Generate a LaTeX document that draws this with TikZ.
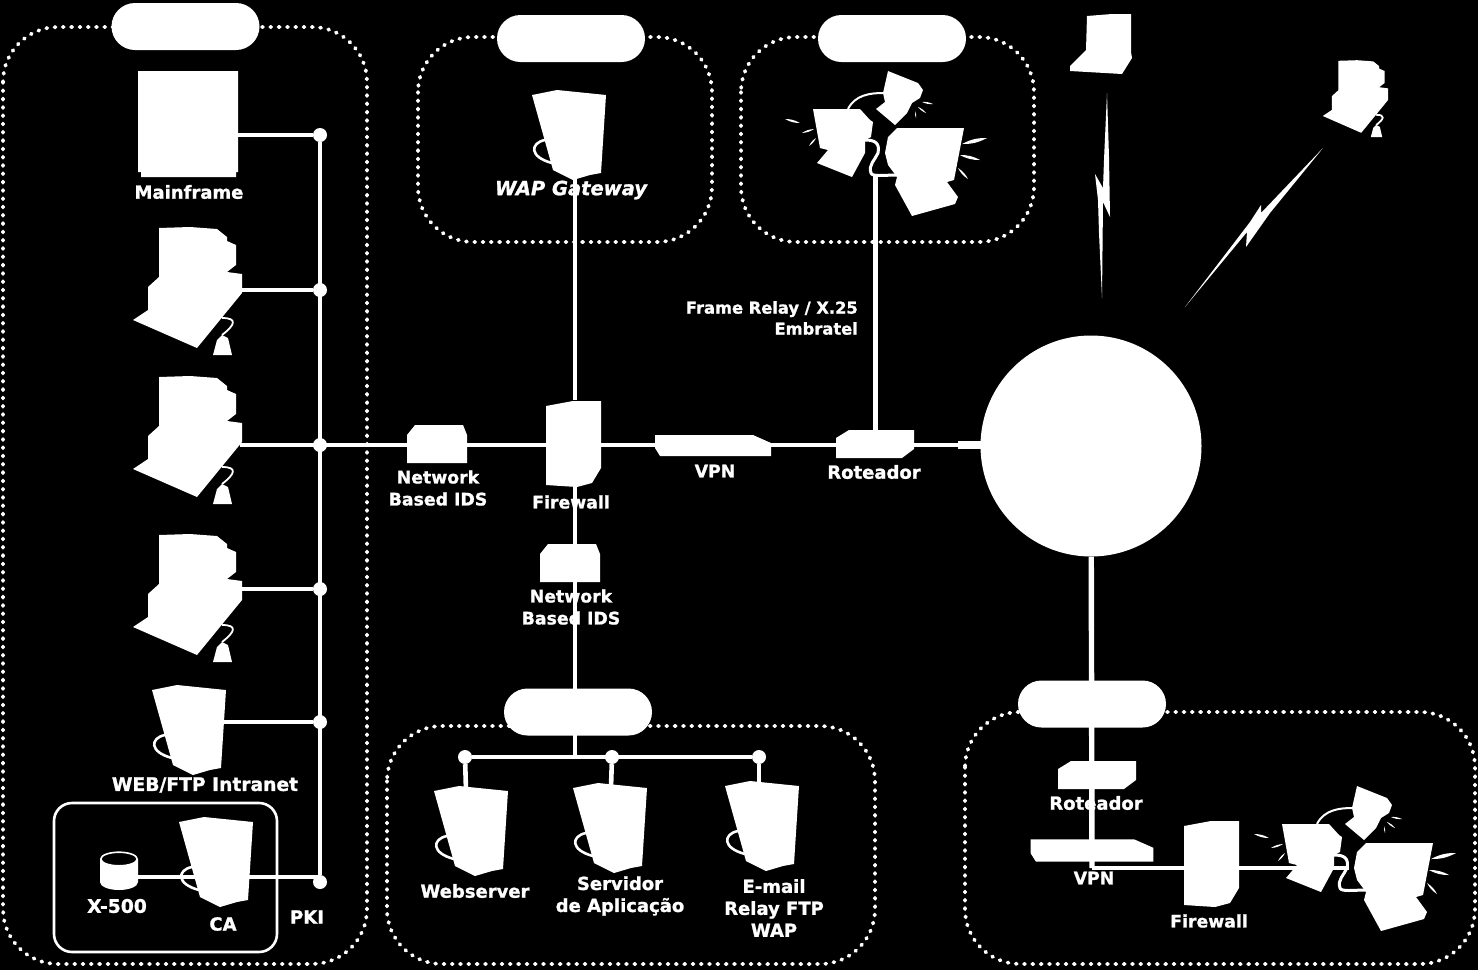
\documentclass[tikz,border=0pt]{standalone}
\usepackage{fontspec}
\setmainfont[BoldFeatures={FakeBold=1.2}, BoldItalicFeatures={FakeBold=1.2}]{DejaVu Sans}
\usepackage{tikz}

\tikzset{
    wire/.style={white, line width=4.6pt},
    bubble/.style={draw=white, line width=3.8pt, line cap=round, dash pattern=on 1pt off 7.3pt, rounded corners=55pt},
    pill/.style={fill=white, rectangle, rounded corners=23.5pt, minimum width=148pt, minimum height=47pt, inner sep=0pt},
    busdot/.style={fill=white, circle, minimum size=14pt, inner sep=0pt},
    lbl/.style={white, align=center, inner sep=0pt, font=\fontsize{18}{22}\selectfont\bfseries},
    lblsmall/.style={lbl, font=\fontsize{17.3}{22}\selectfont\bfseries},
    lblbig/.style={lbl, font=\fontsize{18.7}{22}\selectfont\bfseries},
    % Servers (tower with a cable loop)
    server/.pic={
        \fill[white] (-38,-40) -- (-13,-45) -- (36,-40) -- (31,38) -- (20,40) -- (3,45) -- (-17,35) -- cycle;
        \draw[white, line width=2.6pt] (-25,5) .. controls (-40,8) and (-41,22) .. (-18,28);
    },
    % Desktop with a padlock
    pclock/.pic={
        \fill[white] (-31,-62) -- (0,-63) -- (27,-61) -- (37,-53) -- (37,-49) -- (46,-45) -- (46,-25) -- (37,-18)
            -- (52,-16) -- (52,3) -- (7,58) -- (-57,30) -- (-42,20) -- (-42,-3) -- (-31,-13) -- cycle;
        \fill[white] (23,65) -- (42,65) -- (38,48) -- (32,45) -- (27,50) -- cycle;
        \draw[white, line width=1.8pt] (32,45) .. controls (45,35) and (48,28) .. (32,28);
    },
    idsbox/.pic={
        \fill[white] (-30,-9) -- (-22,-19) -- (26,-19) -- (30,-9) -- (30,19) -- (-30,19) -- cycle;
    },
    firewallbox/.pic={
        \fill[white] (-27,-38) -- (0,-43) -- (28,-43) -- (28,24) -- (19,39) -- (4,43) -- (-27,41) -- cycle;
    },
    vpnbox/.pic={
        \fill[white] (-58,-11) -- (40,-11) -- (58,-3) -- (58,10) -- (-53,10) -- (-58,2) -- cycle;
    },
    routerbox/.pic={
        \fill[white] (-39,-6) -- (-26,-14) -- (39,-14) -- (39,5) -- (27,14) -- (-39,14) -- cycle;
    },
    % Group of three terminals with cables and sparks
    clients/.pic={
        \fill[white] (-67,-31) -- (-20,-31) -- (-10,-20) -- (-7,-18) -- (-9,-3) -- (-15,0) -- (-15,13)
            -- (-28,37) -- (-63,23) -- (-52,10) -- (-60,8) -- cycle;
        \fill[white] (8,-69) -- (38,-57) -- (43,-50) -- (40,-42) -- (32,-37) -- (27,-27) -- (15,-15) -- (-4,-31)
            -- (5,-38) -- (3,-47) -- cycle;
        \fill[white] (17,-12) -- (84,-12) -- (74,40) -- (67,42) -- (78,57) -- (75,64) -- (32,76) -- (15,45)
            -- (17,37) -- (8,25) -- (5,13) -- (8,-3) -- cycle;
        \draw[white, line width=2pt] (-32,-31) .. controls (-25,-45) and (-10,-47) .. (3,-47);
        \draw[white, line width=3pt] (-15,0) .. controls (-5,0) and (0,3) .. (-2,13)
            .. controls (-5,20) and (-12,25) .. (-9,33) .. controls (-8,37) and (5,35) .. (17,35);
        \foreach \ax/\ay/\bx/\by in {-95/-21/-80/-17, -78/-7/-66/-11, -71/6/-64/-2, 42/-38/53/-36, 38/-33/46/-27,
                35/-29/36/-22, 82/4/107/-2, 80/15/100/20, 78/28/88/39} {
            \fill[white] (\ax,\ay) to[bend left=14] (\bx,\by) to[bend left=14] (\ax,\ay);
        }
    },
}

\begin{document}
\begin{tikzpicture}[x=1pt, y=-1pt, line join=round]
    \fill[black, use as bounding box] (0,0) rectangle (1478,970);

    % Dotted areas
    \draw[bubble] (3,27) rectangle (367,964);
    \draw[bubble] (418,37) rectangle (712,242);
    \draw[bubble] (741,37) rectangle (1034,242);
    \draw[bubble] (387,726) rectangle (875,964);
    \draw[bubble] (965,712) rectangle (1475,964);
    \draw[white, line width=2.6pt, rounded corners=18pt] (54,803) rectangle (277,952);

    % Area titles
    \node[pill] (pillIntranet) at (185.5,26.5) {};
    \node[pill] (pillWap) at (571,38.5) {};
    \node[pill] (pillFrame) at (892,38.5) {};
    \node[pill] (pillDmz) at (578,712) {};
    \node[pill] (pillRemote) at (1092,704) {};

    % Internet cloud
    \node[fill=white, circle, minimum size=221pt, inner sep=0pt] (internet) at (1091,446) {};

    % Bus junctions
    \node[busdot] (busMain) at (320,135) {};
    \node[busdot] (busPcA) at (320,290) {};
    \node[busdot] (busPcB) at (320,445) {};
    \node[busdot] (busPcC) at (320,589) {};
    \node[busdot] (busWeb) at (320,722) {};
    \node[busdot] (busPki) at (320,882) {};
    \node[busdot] (busWebserver) at (465,757) {};
    \node[busdot] (busApp) at (612,757) {};
    \node[busdot] (busMail) at (759,757) {};

    % Left column
    \fill[white] (138,71) -- (238,71) -- (238,172) -- (236,172) -- (236,177) -- (141,177) -- (141,172) -- (138,172) -- cycle;
    \pic at (190,290) {pclock};
    \pic at (190,439) {pclock};
    \pic at (190,597) {pclock};
    \pic at (190,730) {server};
    \pic at (217,862) {server};

    % Directory database
    \fill[white] (100,859) -- (138,859) -- (138,882)
        arc[start angle=0, end angle=180, x radius=19, y radius=8] -- cycle;
    \draw[white, line width=1.6pt, fill=black] (119,859) ellipse (18.2 and 6.8);

    % Middle and bottom devices
    \pic at (570,135) {server};
    \pic at (472,831) {server};
    \pic at (611,828) {server};
    \pic at (763,826) {server};
    \pic at (437,444) {idsbox};
    \pic at (570,563) {idsbox};
    \pic at (573,444) {firewallbox};
    \pic at (713,446) {vpnbox};
    \pic at (875,444) {routerbox};
    \pic at (880,140) {clients};

    % Remote site
    \pic at (1097,775) {routerbox};
    \pic[xscale=1.06, yscale=1.05] at (1092,851) {vpnbox};
    \pic at (1211,864) {firewallbox};
    \pic at (1349,855) {clients};

    % Mobile clients
    \fill[white] (1087,16) -- (1112,14) -- (1131,14) -- (1131,52) -- (1132,58) -- (1122,74) -- (1070,71) -- (1070,66) -- (1086,50) -- cycle;
    \pic[scale=0.6] at (1357,98) {pclock};
    \fill[white] (1107,93) -- (1109,157) -- (1110,217) -- (1103,202) -- (1102,298) -- (1099,233) -- (1098,200) -- (1095,174) -- (1103,188) -- (1104,160) -- cycle;
    \fill[white] (1323,148) -- (1270,213) -- (1246,247) -- (1247,232) -- (1185,307) -- (1250,222) -- (1261,205) -- (1261,213) -- cycle;

    % Device ports
    \coordinate (mainframe) at (238,135);
    \coordinate (pcA) at (240,290);
    \coordinate (pcB) at (240,445);
    \coordinate (pcC) at (240,589);
    \coordinate (webftp) at (222,722);
    \coordinate (ldap) at (138,877);
    \coordinate (caRight) at (320,877);
    \coordinate (wapSrv) at (575,170);
    \coordinate (fwTop) at (575,400);
    \coordinate (fwMain) at (575,445);
    \coordinate (dmzTee) at (575,756);
    \coordinate (routerTop) at (875,430);
    \coordinate (clientWire) at (875,175);
    \coordinate (cloudLeft) at (981,445);
    \coordinate (cloudStub) at (958,445);
    \coordinate (remoteTee) at (1092,868);
    \coordinate (remoteEnd) at (1349,868);
    \coordinate (webSrv) at (466,790);
    \coordinate (appSrv) at (611,787);
    \coordinate (mailSrv) at (759,785);

    % Connections
    \draw[wire] (busMain) -- (busPki);
    \draw[wire] (mainframe) -- (busMain);
    \draw[wire] (pcA) -- (busPcA);
    \draw[wire] (pcB) -- (fwMain) -- (cloudLeft);
    \draw[wire, line width=8pt] (cloudStub) -- (cloudLeft);
    \draw[wire] (pcC) -- (busPcC);
    \draw[wire] (webftp) -- (busWeb);
    \draw[wire] (ldap) -- (caRight);
    \draw[wire] (wapSrv) -- (fwTop);
    \draw[wire] (fwMain) -- (dmzTee);
    \draw[wire] (busWebserver) -- (busMail);
    \draw[wire] (busWebserver) -- (webSrv);
    \draw[wire] (busApp) -- (appSrv);
    \draw[wire] (busMail) -- (mailSrv);
    \draw[wire, line width=5pt] (clientWire) -- (routerTop);
    \draw[wire, line width=5.4pt] (internet) -- (remoteTee);
    \draw[wire] (remoteTee) -- (remoteEnd);

    % Labels
    \node[lbl] (lblMainframe) at (189,192) {Mainframe};
    \node[lblbig] (lblWeb) at (205,785) {WEB/FTP Intranet};
    \node[lblbig] (lblLdap) at (117,906) {X-500};
    \node[lbl] (lblCa) at (223,924) {CA};
    \node[lbl] (lblPki) at (307,917) {PKI};
    \node[lbl, font=\fontsize{19.5}{22}\selectfont\bfseries\itshape] (lblWap) at (571,190) {WAP Gateway};
    \node[lbl, align=right, anchor=east, font=\fontsize{16.3}{21}\selectfont\bfseries] (lblFrame) at (858,318) {Frame Relay / X.25\\Embratel};
    \node[lblsmall] (lblIdsA) at (438,488) {Network\\Based IDS};
    \node[lblsmall] (lblFw) at (571,502) {Firewall};
    \node[lblsmall] (lblVpn) at (715,471) {VPN};
    \node[lbl] (lblRouter) at (874,472) {Roteador};
    \node[lblsmall] (lblIdsB) at (571,607) {Network\\Based IDS};
    \node[lbl] (lblWebserver) at (475,891) {Webserver};
    \node[lbl] (lblApp) at (620,896) {Servidor\\de Aplicação};
    \node[lbl] (lblMail) at (774,908) {E-mail\\Relay FTP\\WAP};
    \node[lbl] (lblRemoteRouter) at (1096,803) {Roteador};
    \node[lblsmall] (lblRemoteVpn) at (1094,878) {VPN};
    \node[lblsmall] (lblRemoteFw) at (1209,921) {Firewall};
\end{tikzpicture}
\end{document}
